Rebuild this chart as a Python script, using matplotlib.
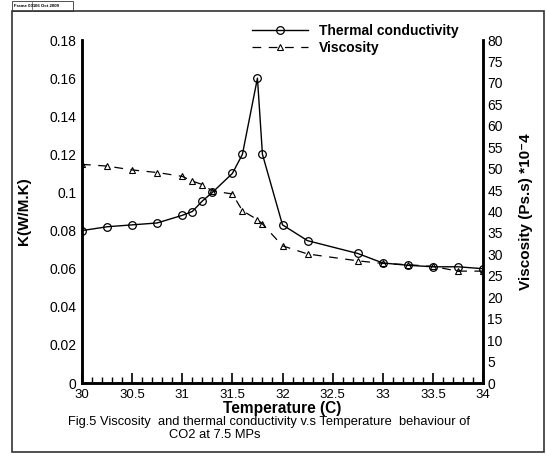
import matplotlib
matplotlib.use("Agg")
import matplotlib.pyplot as plt
from matplotlib.lines import Line2D
from matplotlib.patches import Rectangle
from matplotlib.ticker import MultipleLocator, FuncFormatter

plt.rcParams['font.family'] = ['Liberation Sans', 'DejaVu Sans']

# Data
temp_k = [30, 30.25, 30.5, 30.75, 31.0, 31.1, 31.2, 31.3, 31.5, 31.6, 31.75, 31.8,
          32.0, 32.25, 32.75, 33.0, 33.25, 33.5, 33.75, 34.0]
thermal_k = [0.080, 0.082, 0.083, 0.084, 0.088, 0.090, 0.0955, 0.100, 0.110, 0.120, 0.160, 0.120,
             0.083, 0.0747, 0.068, 0.063, 0.0618, 0.061, 0.061, 0.060]
temp_v = [30, 30.25, 30.5, 30.75, 31.0, 31.1, 31.2, 31.3, 31.5, 31.6, 31.75, 31.8,
          32.0, 32.25, 32.75, 33.0, 33.25, 33.5, 33.75, 34.0]
viscosity = [51.0, 50.6, 49.7, 49.1, 48.2, 47.1, 46.3, 44.8, 44.1, 40.2, 38.1, 37.1,
             32.0, 30.1, 28.5, 27.9, 27.6, 27.2, 26.1, 26.1]

fig = plt.figure(figsize=(5.46, 4.55), dpi=100)
ax = fig.add_axes([0.1502, 0.1582, 0.7344, 0.7538])
ax2 = ax.twinx()

l1, = ax.plot(temp_k, thermal_k, color='black', lw=1.0, marker='o', ms=5.5,
              mfc='none', mec='black', mew=0.9, label='Thermal conductivity', zorder=3)
l2, = ax2.plot(temp_v, viscosity, color='black', lw=0.9, ls=(0, (7, 6)), marker='^', ms=4,
               mfc='none', mec='black', mew=0.8, label='Viscosity')

ax.set_xlim(30, 34)
ax.set_ylim(0, 0.18)
ax2.set_ylim(0, 80)

ax.xaxis.set_major_locator(MultipleLocator(0.5))
ax.xaxis.set_minor_locator(MultipleLocator(0.1))
ax.yaxis.set_major_locator(MultipleLocator(0.02))
ax2.yaxis.set_major_locator(MultipleLocator(5))
ax.yaxis.set_major_formatter(FuncFormatter(lambda v, p: f"{v:g}" if abs(v) > 1e-9 else "0"))
ax.xaxis.set_major_formatter(FuncFormatter(lambda v, p: f"{v:g}"))

ax.tick_params(axis='x', which='major', direction='in', length=7, width=1.2, labelsize=9.5, pad=4)
ax.tick_params(axis='x', which='minor', direction='in', length=4, width=1.0)
ax.tick_params(axis='y', length=0, labelsize=10, pad=4)
ax2.tick_params(axis='y', length=0, labelsize=10, pad=3)

for a in (ax, ax2):
    a.spines['top'].set_visible(False)
    for s in ('left', 'right', 'bottom'):
        a.spines[s].set_linewidth(1.8)

ax.set_xlabel('Temperature (C)', fontsize=11.2, fontweight='bold', labelpad=0.5)
ax.set_ylabel('K(W/M.K)', fontsize=11, fontweight='bold', labelpad=13)
ax2.set_ylabel('Viscosity (Ps.s) *10⁻4', fontsize=11, fontweight='bold', labelpad=12)

leg = ax.legend(handles=[l1, l2], loc='upper left', bbox_to_anchor=(0.40, 1.075),
                frameon=False, prop={'weight': 'bold', 'size': 10}, handlelength=4.0,
                handletextpad=0.8, borderpad=0.2, labelspacing=0.2)

fig.text(0.493, 0.073, 'Fig.5 Viscosity  and thermal conductivity v.s Temperature  behaviour of',
         ha='center', va='center', fontsize=9.3)
fig.text(0.394, 0.043, 'CO2 at 7.5 MPs', ha='center', va='center', fontsize=9.3)

# outer frame and header
fig.add_artist(Rectangle((12/546, 3/455), 532/546, 441/455, transform=fig.transFigure,
                         fill=False, lw=1.2, ec='#333333'))
fig.add_artist(Rectangle((12/546, 444/455), 61/546, 10/455, transform=fig.transFigure,
                         fill=False, lw=0.6, ec='#333333'))
fig.add_artist(Line2D([32/546, 32/546], [444/455, 454/455], transform=fig.transFigure,
                      lw=0.5, color='#555555'))
fig.text(14/546, 449/455, 'Frame 001', fontsize=3.2, fontweight='bold', va='center', ha='left')
fig.text(35/546, 449/455, '06 Oct 2009', fontsize=3.2, fontweight='bold', va='center', ha='left')

fig.savefig('out.png', dpi=100)
